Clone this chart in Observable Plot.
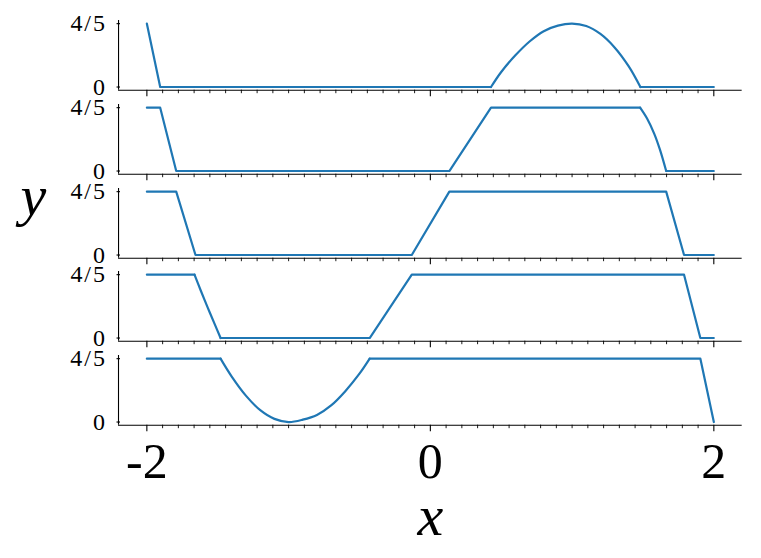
<!DOCTYPE html>
<html>
<head>
<meta charset="utf-8">
<script src="https://cdn.jsdelivr.net/npm/d3@7"></script>
<script src="https://cdn.jsdelivr.net/npm/@observablehq/plot@0.6"></script>
<style>
  html, body { margin: 0; padding: 0; background: white; }
  #chart { position: relative; width: 761px; height: 558px; overflow: hidden; }
  #chart svg { position: absolute; left: 0; }
  #chart svg text { font-family: 'Liberation Serif', 'Times New Roman', serif; }
</style>
</head>
<body>
<div id="chart"></div>
<script>
// ---- data ----
const xMajorTicks = [-2, 0, 2];
const xMajorLabels = ["-2", "0", "2"];
const yTickValues = [0, 0.8];
const yTickLabels = ["0", "4/5"];
const xAxisLabel = "x";
const yAxisLabel = "y";

const panel1X = [-2, -1.906, 0.428, 0.5, 0.6, 0.7, 0.8, 0.9, 1.0, 1.1, 1.2, 1.3, 1.4, 1.482, 2];
const panel1Y = [0.8, 0, 0, 0.19, 0.4, 0.575, 0.705, 0.775, 0.8, 0.77, 0.67, 0.5, 0.26, 0, 0];
const panel1Curved = [2, 13];   // index range drawn as a smooth curve

const panel2X = [-2, -1.906, -1.793, 0.134, 0.428, 1.48, 1.53, 1.58, 1.62, 1.664, 2];
const panel2Y = [0.8, 0.8, 0, 0, 0.8, 0.8, 0.66, 0.47, 0.27, 0, 0];
const panel2Curved = [5, 9];

const panel3X = [-2, -1.793, -1.657, -0.131, 0.134, 1.664, 1.79, 2];
const panel3Y = [0.8, 0.8, 0, 0, 0.8, 0.8, 0, 0];
const panel3Curved = null;

const panel4X = [-2, -1.664, -1.62, -1.57, -1.52, -1.48, -0.428, -0.131, 1.79, 1.905, 2];
const panel4Y = [0.8, 0.8, 0.6, 0.38, 0.17, 0, 0, 0.8, 0.8, 0, 0];
const panel4Curved = [1, 5];

const panel5X = [-2, -1.48, -1.4, -1.3, -1.2, -1.1, -1.0, -0.9, -0.8, -0.7, -0.6, -0.5, -0.428, 1.905, 2];
const panel5Y = [0.8, 0.8, 0.57, 0.33, 0.15, 0.04, 0, 0.03, 0.09, 0.21, 0.39, 0.61, 0.8, 0.8, 0];
const panel5Curved = [1, 12];

const panelsX = [panel1X, panel2X, panel3X, panel4X, panel5X];
const panelsY = [panel1Y, panel2Y, panel3Y, panel4Y, panel5Y];
const panelsCurved = [panel1Curved, panel2Curved, panel3Curved, panel4Curved, panel5Curved];

// ---- layout ----
const xDomain = [-2.2, 2.2];
const yDomain = [-0.04, 0.84];
const W = 761, ML = 118, MR = 19.3;
const FRAME_H = 69.7, PITCH = 83.75, TOP0 = 20.2;
const MT = 16, MB = 14, MB_LAST = 558 - 424.9;
const minorTicks = d3.range(-18, 19).map(i => i / 9).filter(v => Math.abs(v - Math.round(v / 2) * 2) > 1e-9);
const BLUE = "#1f77b4";
const FONT = "'Liberation Serif', 'Times New Roman', serif";

const chart = document.getElementById("chart");

panelsX.forEach((xs, i) => {
  const isBottom = i === panelsX.length - 1;
  const mb = isBottom ? MB_LAST : MB;
  const data = xs.map((x, k) => ({x, y: panelsY[i][k]}));
  const cr = panelsCurved[i];
  let straightParts, curvedPart = null;
  if (cr) {
    straightParts = [data.slice(0, cr[0] + 1).map(d => ({...d, s: 0})), data.slice(cr[1]).map(d => ({...d, s: 1}))];
    curvedPart = data.slice(cr[0], cr[1] + 1);
  } else {
    straightParts = [data.map(d => ({...d, s: 0}))];
  }
  const marks = [
    Plot.axisX(minorTicks, {tickSize: 3.5, tickFormat: () => "", label: null, strokeWidth: 0.9}),
    Plot.axisX(xMajorTicks, {
      tickSize: 6.5, tickPadding: 11, strokeWidth: 1.1, label: null,
      tickFormat: isBottom ? (d) => xMajorLabels[xMajorTicks.indexOf(d)] : () => "",
      fontSize: 50
    }),
    Plot.axisY(yTickValues, {
      tickSize: 3.5, tickPadding: 10, strokeWidth: 1.1, label: null, dx: 2,
      tickFormat: (d) => yTickLabels[yTickValues.indexOf(d)],
      fontSize: 24
    }),
    Plot.ruleY([yDomain[0]], {stroke: "black", strokeWidth: 1.1}),
    Plot.ruleX([xDomain[0]], {stroke: "black", strokeWidth: 1.1}),
    Plot.line(straightParts.flat(), {x: "x", y: "y", z: "s", stroke: BLUE, strokeWidth: 2.2, strokeLinejoin: "round"})
  ];
  if (curvedPart) {
    marks.push(Plot.line(curvedPart, {x: "x", y: "y", curve: "catmull-rom", stroke: BLUE, strokeWidth: 2.2}));
  }
  if (i === 2) {
    marks.push(Plot.text([yAxisLabel], {text: d => d, frameAnchor: "left", dx: -98, dy: -27, fontSize: 58, fontStyle: "italic"}));
  }
  if (isBottom) {
    marks.push(Plot.text([xAxisLabel], {text: d => d, frameAnchor: "bottom", dy: 110, fontSize: 58, fontStyle: "italic"}));
  }
  const svg = Plot.plot({
    width: W,
    height: MT + FRAME_H + mb,
    marginLeft: ML, marginRight: MR, marginTop: MT, marginBottom: mb,
    style: {background: "none", fontFamily: FONT, color: "black", overflow: "visible"},
    x: {domain: xDomain, label: null},
    y: {domain: yDomain, label: null},
    marks
  });
  svg.style.top = (TOP0 + i * PITCH - MT) + "px";
  svg.querySelectorAll('g[aria-label="y-axis tick label"] text').forEach(t => t.style.letterSpacing = "2px");
  chart.appendChild(svg);
});
</script>
</body>
</html>
